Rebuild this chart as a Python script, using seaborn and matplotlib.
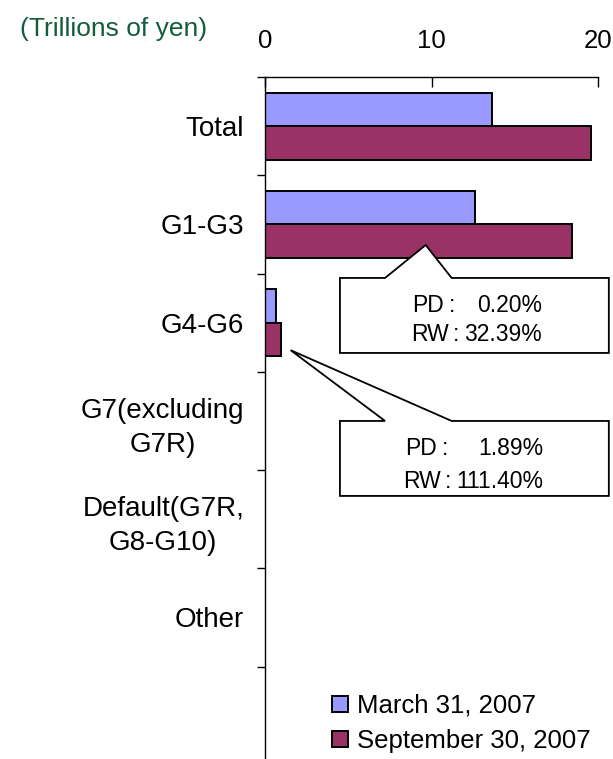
import matplotlib
matplotlib.use("Agg")
import matplotlib.pyplot as plt
from matplotlib.patches import Polygon
from matplotlib.ticker import FixedLocator
import seaborn as sns
import pandas as pd

# Exposure by obligor grade (trillions of yen)
categories = ["Total", "G1-G3", "G4-G6", "G7(excluding\nG7R)",
              "Default(G7R,\nG8-G10)", "Other"]
march_2007 = [13.65, 12.63, 0.66, 0.0, 0.0, 0.0]
sept_2007 = [19.58, 18.46, 0.94, 0.0, 0.0, 0.0]
series_names = ["March 31, 2007", "September 30, 2007"]
series_colors = ["#9999FF", "#993366"]
x_ticks = [0, 10, 20]

# Callout notes: PD and RW for the grade each balloon points at
note_pd = ["0.20%", "1.89%"]
note_rw = ["32.39%", "111.40%"]

df = pd.DataFrame({
    "category": categories * 2,
    "value": march_2007 + sept_2007,
    "period": [series_names[0]] * len(categories) + [series_names[1]] * len(categories),
})

sns.set_theme(style="white")
plt.rcParams["font.family"] = ["Liberation Sans", "DejaVu Sans"]
plt.rcParams["text.color"] = "black"

fig = plt.figure(figsize=(6.13, 7.59), dpi=100)
ax = fig.add_axes([265 / 613, 0.0, (598 - 265) / 613, 1 - 77 / 759])

sns.barplot(data=df, y="category", x="value", hue="period", orient="h",
            palette=series_colors, saturation=1, width=0.68, edgecolor="black",
            linewidth=1.4, ax=ax, legend=True, zorder=2)

ax.set_xlim(x_ticks[0], x_ticks[-1])
ax.set_ylim(6.44, -0.5)
ax.set_xlabel("")
ax.set_ylabel("")

# x axis on top with inward ticks
ax.xaxis.set_ticks_position("top")
ax.set_xticks(x_ticks)
ax.set_xticklabels([str(t) for t in x_ticks])
ax.tick_params(axis="x", top=True, bottom=False, labeltop=True, labelbottom=False,
               direction="in", length=7, width=1, pad=17, labelsize=18.5,
               colors="black")

# category labels centred, tick marks on the band boundaries
ax.set_yticks(range(len(categories)))
ax.set_yticklabels(categories, multialignment="center")
for lbl in ax.get_yticklabels():
    lbl.set_linespacing(1.4)
ax.yaxis.set_minor_locator(FixedLocator([i - 0.5 for i in range(len(categories) + 1)]))
ax.tick_params(axis="y", which="major", length=0, pad=15, labelsize=20, colors="black")
ax.tick_params(axis="y", which="minor", left=True, direction="out", length=6, width=1,
               color="black")

for side in ["right", "bottom"]:
    ax.spines[side].set_visible(False)
for side in ["left", "top"]:
    ax.spines[side].set_color("black")
    ax.spines[side].set_linewidth(1.0)

# callout balloons: pointer tip, box top/bottom, and for each text line
# (baseline, key left edge, colon centre); values share a right edge
box_left, box_right = 4.5, 20.65
base_l, base_r = 7.21, 11.21
callout_geom = [
    dict(tip=(9.65, 1.21), top=1.545, bot=2.308, right=16.62,
         pd_line=(1.888, 8.83, 11.23), rw_line=(2.191, 8.77, 11.49)),
    dict(tip=(1.54, 2.28), top=3.00, bot=3.763, right=16.71,
         pd_line=(3.342, 8.41, 10.81), rw_line=(3.681, 8.30, 11.01)),
]
note_fs = 16.5
for pd_val, rw_val, g in zip(note_pd, note_rw, callout_geom):
    top, bot = g["top"], g["bot"]
    pts = [g["tip"], (base_r, top), (box_right, top), (box_right, bot),
           (box_left, bot), (box_left, top), (base_l, top)]
    ax.add_patch(Polygon(pts, closed=True, facecolor="white", edgecolor="black",
                         linewidth=1.3, zorder=5, clip_on=False))
    for key, val, (y, x_key, x_colon) in [("PD", pd_val, g["pd_line"]),
                                          ("RW", rw_val, g["rw_line"])]:
        ax.text(x_key, y, key, ha="left", va="baseline", fontsize=note_fs,
                zorder=6, clip_on=False)
        ax.text(x_colon, y, ":", ha="center", va="baseline", fontsize=note_fs,
                zorder=6, clip_on=False)
        ax.text(g["right"], y, val, ha="right", va="baseline", fontsize=note_fs,
                zorder=6, clip_on=False)

handles, labels = ax.get_legend_handles_labels()
ax.legend(handles, labels, loc="lower left", bbox_to_anchor=(322 / 613, -4 / 759),
          bbox_transform=fig.transFigure, frameon=False, fontsize=18.5,
          handlelength=0.6, handleheight=0.6, handletextpad=0.35,
          labelspacing=0.42, borderaxespad=0)

fig.text(20 / 613, 1 - 29 / 759, "(Trillions of yen)", color="#135c3c",
         fontsize=19, ha="left", va="center")

fig.savefig("out.png", dpi=100)
